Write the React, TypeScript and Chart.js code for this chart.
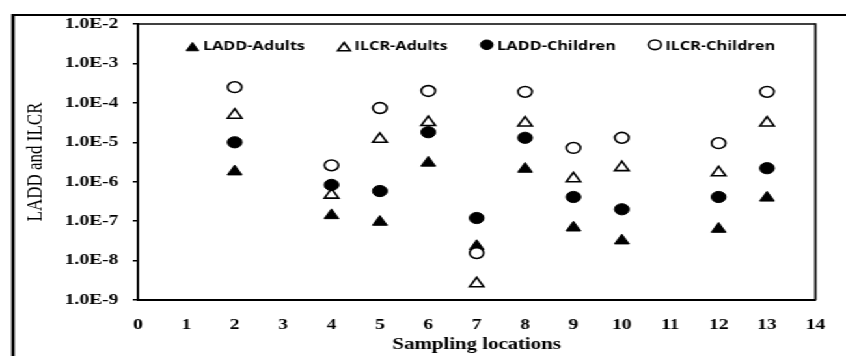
import React, { useEffect, useRef } from 'react';
import { Chart, registerables } from 'chart.js';
import { drawPoint } from 'chart.js/helpers';

Chart.register(...registerables);

// The reference is horizontally stretched; draw at a narrower width and stretch.
const CANVAS_W = 650;
const CANVAS_H = 356;
const SCALE_X = 846 / CANVAS_W;

// ---- data ----
const locations = [2, 4, 5, 6, 7, 8, 9, 10, 12, 13];
const laddAdults = [1.8e-6, 1.4e-7, 9.5e-8, 3.0e-6, 2.3e-8, 2.1e-6, 6.8e-8, 3.2e-8, 6.3e-8, 3.9e-7];
const ilcrAdults = [4.9e-5, 4.6e-7, 1.2e-5, 3.2e-5, 2.6e-9, 3.1e-5, 1.2e-6, 2.3e-6, 1.7e-6, 3.1e-5];
const laddChildren = [1.0e-5, 8.3e-7, 5.8e-7, 1.8e-5, 1.2e-7, 1.3e-5, 4.1e-7, 2.0e-7, 4.1e-7, 2.2e-6];
const ilcrChildren = [2.5e-4, 2.6e-6, 7.4e-5, 2.0e-4, 1.55e-8, 1.9e-4, 7.2e-6, 1.3e-5, 9.5e-6, 1.9e-4];
const seriesNames = ['LADD-Adults', 'ILCR-Adults', 'LADD-Children', 'ILCR-Children'];
const yTickExponents = [-9, -8, -7, -6, -5, -4, -3, -2];
const xMin = 0;
const xMax = 14;
const xTitle = 'Sampling locations';
const yTitle = 'LADD and ILCR';

const SERIF = '"Liberation Serif", "Times New Roman", serif';

const toPoints = (vals: number[]) => locations.map((x, i) => ({ x, y: vals[i] }));

const framePlugin = {
  id: 'frameAndLegend',
  beforeDraw(chart: any) {
    const { ctx } = chart;
    ctx.save();
    ctx.fillStyle = '#fff';
    ctx.fillRect(0, 0, chart.width, chart.height);
    ctx.strokeStyle = '#000';
    // outer frame (cut at right and bottom)
    ctx.lineWidth = 2.6;
    ctx.beginPath();
    ctx.moveTo(10, 14);
    ctx.lineTo(10, chart.height + 5);
    ctx.stroke();
    ctx.lineWidth = 2;
    ctx.beginPath();
    ctx.moveTo(9, 15);
    ctx.lineTo(chart.width + 5, 15);
    ctx.stroke();
    ctx.restore();
  },
  beforeDatasetsDraw(chart: any) {
    const { ctx, chartArea } = chart;
    ctx.save();
    ctx.strokeStyle = '#000';
    ctx.lineWidth = 1.6;
    ctx.beginPath();
    ctx.moveTo(chartArea.left, chartArea.top);
    ctx.lineTo(chartArea.right, chartArea.top);
    ctx.stroke();
    ctx.lineWidth = 1.7;
    ctx.beginPath();
    ctx.moveTo(chartArea.right, chartArea.top - 0.8);
    ctx.lineTo(chartArea.right, chartArea.bottom);
    ctx.stroke();
    ctx.restore();
  },
  afterDraw(chart: any) {
    const { ctx, chartArea } = chart;
    ctx.save();
    ctx.font = 'bold 12.5px "Open Sans", sans-serif';
    const dsets = chart.data.datasets;
    const widths = dsets.map((ds: any) => ctx.measureText(ds.label).width);
    const markerW = 10;
    const textGap = 3;
    const gap = 25;
    const total = widths.reduce((s: number, w: number) => s + markerW + textGap + w, 0) + gap * (dsets.length - 1);
    let x = (chartArea.left + chartArea.right) / 2 - total / 2 + 3;
    dsets.forEach((ds: any, i: number) => {
      ctx.fillStyle = ds.backgroundColor;
      ctx.strokeStyle = ds.borderColor;
      ctx.lineWidth = ds.borderWidth;
      const tri = ds.pointStyle === 'triangle';
      drawPoint(
        ctx,
        { pointStyle: ds.pointStyle, radius: tri ? 5.5 : 4.8, rotation: 0, borderWidth: ds.borderWidth },
        x + markerW / 2,
        chartArea.top + (tri ? 24 : 20.8)
      );
      ctx.fillStyle = '#000';
      ctx.textAlign = 'left';
      ctx.textBaseline = 'alphabetic';
      ctx.fillText(ds.label, x + markerW + textGap, chartArea.top + 26);
      x += markerW + textGap + widths[i] + gap;
    });
    ctx.restore();
  },
};

export default function App() {
  const ref = useRef<HTMLCanvasElement>(null);
  useEffect(() => {
    document.body.style.margin = '0';
    const canvas = ref.current;
    if (!canvas) return;
    const chart = new Chart(canvas, {
      type: 'scatter',
      data: {
        datasets: [
          {
            label: seriesNames[0],
            data: toPoints(laddAdults),
            pointStyle: 'triangle',
            pointRadius: 6.5,
            backgroundColor: '#000',
            borderColor: '#000',
            borderWidth: 1,
            order: 4,
          },
          {
            label: seriesNames[1],
            data: toPoints(ilcrAdults),
            pointStyle: 'triangle',
            pointRadius: 6.3,
            backgroundColor: '#fff',
            borderColor: '#000',
            borderWidth: 1.6,
            order: 3,
          },
          {
            label: seriesNames[2],
            data: toPoints(laddChildren),
            pointStyle: 'circle',
            pointRadius: 5.6,
            backgroundColor: '#000',
            borderColor: '#000',
            borderWidth: 1,
            order: 2,
          },
          {
            label: seriesNames[3],
            data: toPoints(ilcrChildren),
            pointStyle: 'circle',
            pointRadius: 5.4,
            backgroundColor: '#fff',
            borderColor: '#000',
            borderWidth: 1.6,
            order: 1,
          },
        ] as any,
      },
      options: {
        animation: false,
        responsive: false,
        devicePixelRatio: 1,
        layout: { padding: { left: 0, top: 24, right: 9, bottom: 0 } },
        plugins: {
          legend: { display: false },
          tooltip: { enabled: false },
        },
        scales: {
          x: {
            type: 'linear',
            min: xMin,
            max: xMax,
            afterFit: (s: any) => {
              s.height = 56;
            },
            ticks: {
              stepSize: 1,
              color: '#000',
              padding: 16,
              font: { family: SERIF, size: 15, weight: 'bold' },
            },
            grid: { display: false, drawTicks: false },
            border: { display: true, color: '#000', width: 2 },
            title: {
              display: true,
              text: xTitle,
              color: '#000',
              font: { family: SERIF, size: 16, weight: 'bold' },
              padding: { top: 0, bottom: 2 },
            },
          },
          y: {
            type: 'logarithmic',
            min: Math.pow(10, yTickExponents[0]),
            max: Math.pow(10, yTickExponents[yTickExponents.length - 1]),
            afterFit: (s: any) => {
              s.width = 106;
            },
            afterBuildTicks: (s: any) => {
              s.ticks = yTickExponents.map((e) => ({ value: Math.pow(10, e) }));
            },
            ticks: {
              color: '#000',
              padding: 11,
              font: { family: SERIF, size: 15, weight: 'bold' },
              callback: (v: any) => '1.0E' + Math.round(Math.log10(Number(v))),
            },
            grid: {
              display: true,
              drawOnChartArea: false,
              drawTicks: true,
              tickLength: 4,
              color: '#000',
              lineWidth: 1.5,
            },
            border: { display: true, color: '#000', width: 1.9 },
            title: {
              display: true,
              text: yTitle,
              color: '#000',
              font: { family: SERIF, size: 17, weight: 'normal' },
              padding: { top: 17, bottom: 0 },
            },
          },
        },
      } as any,
      plugins: [framePlugin],
    });
    return () => chart.destroy();
  }, []);

  return (
    <div
      style={{
        position: 'absolute',
        left: 0,
        top: 0,
        width: CANVAS_W,
        height: CANVAS_H,
        transform: `scaleX(${SCALE_X})`,
        transformOrigin: '0 0',
        background: '#fff',
      }}
    >
      <canvas ref={ref} width={CANVAS_W} height={CANVAS_H} style={{ display: 'block' }} />
    </div>
  );
}
